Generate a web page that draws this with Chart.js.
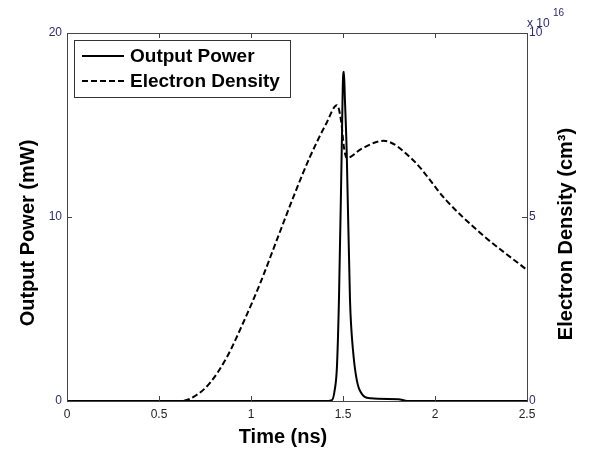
<!DOCTYPE html>
<html>
<head>
<meta charset="utf-8">
<script src="https://cdn.jsdelivr.net/npm/chart.js@4.4.0/dist/chart.umd.min.js"></script>
<style>
  html, body { margin: 0; padding: 0; background: #fff; }
</style>
</head>
<body>
<canvas id="chart" width="590" height="453"></canvas>
<script>
// Output power pulse (time in ns, power in mW)
const powerTime   = [0, 1.40, 1.44, 1.455, 1.467, 1.478, 1.493, 1.500, 1.505, 1.510, 1.520, 1.538, 1.554, 1.59, 1.65, 1.80, 1.85, 2.5];
const powerValues = [0, 0, 0.05, 0.6, 1.85, 5.5, 13.6, 17.5, 17.9, 16.5, 13.6, 5.5, 2.8, 0.6, 0.15, 0.1, 0, 0];

// Electron density (time in ns, density in 1e16 cm^-3)
const densityTime   = [0, 0.62, 0.70, 0.777, 0.87, 0.957, 1.05, 1.14, 1.23, 1.32, 1.41, 1.467, 1.49, 1.505, 1.52, 1.60, 1.72, 1.88, 2.06, 2.245, 2.5];
const densityValues = [0, 0, 0.15, 0.49, 1.2, 2.12, 3.2, 4.37, 5.54, 6.63, 7.55, 8.04, 7.6, 6.9, 6.6, 6.85, 7.07, 6.55, 5.46, 4.57, 3.56];

// Tick labels
const timeTicks = [0, 0.5, 1, 1.5, 2, 2.5];
const powerTicks = [0, 10, 20];
const densityTicks = [0, 5, 10];

const xTitle = 'Time (ns)';
const yTitle = 'Output Power (mW)';
const y2Title = 'Electron Density (cm\u00B3)';

const FONT = '"Liberation Sans", Arial, sans-serif';
const tickColor = '#2f2a72';

function toPoints(xs, ys) {
    return xs.map((x, i) => ({ x: x, y: ys[i] }));
}

function setTicks(values) {
    return function(scale) {
        scale.ticks = values.map(v => ({ value: v }));
    };
}

// Draws the MATLAB-style box, inward ticks, titles and the framed legend
const framePlugin = {
    id: 'frame',
    afterDatasetsDraw(chart) {
        const { ctx, chartArea: a, scales } = chart;
        ctx.save();
        ctx.strokeStyle = '#444';
        ctx.lineWidth = 1;
        ctx.strokeRect(Math.round(a.left) + 0.5, Math.round(a.top) + 0.5,
            Math.round(a.right - a.left), Math.round(a.bottom - a.top));

        ctx.beginPath();
        scales.x.ticks.forEach(t => {
            const px = Math.round(scales.x.getPixelForValue(t.value)) + 0.5;
            ctx.moveTo(px, a.bottom); ctx.lineTo(px, a.bottom - 5);
            ctx.moveTo(px, a.top); ctx.lineTo(px, a.top + 5);
        });
        scales.y.ticks.forEach(t => {
            const py = Math.round(scales.y.getPixelForValue(t.value)) + 0.5;
            ctx.moveTo(a.left, py); ctx.lineTo(a.left + 5, py);
        });
        scales.y2.ticks.forEach(t => {
            const py = Math.round(scales.y2.getPixelForValue(t.value)) + 0.5;
            ctx.moveTo(a.right, py); ctx.lineTo(a.right - 5, py);
        });
        ctx.stroke();

        // axis titles
        ctx.fillStyle = '#000';
        ctx.font = 'bold 20px ' + FONT;
        ctx.textAlign = 'center';
        ctx.textBaseline = 'middle';
        ctx.fillText(xTitle, 283, 437);

        ctx.save();
        ctx.translate(28, 233);
        ctx.rotate(-Math.PI / 2);
        ctx.fillText(yTitle, 0, 0);
        ctx.restore();

        ctx.save();
        ctx.translate(566, 234);
        ctx.rotate(-Math.PI / 2);
        ctx.fillText(y2Title, 0, 0);
        ctx.restore();

        // exponent label of the right axis
        ctx.fillStyle = tickColor;
        ctx.textAlign = 'left';
        ctx.textBaseline = 'alphabetic';
        ctx.font = '12px ' + FONT;
        ctx.fillText('x 10', 527, 27);
        ctx.font = '10px ' + FONT;
        ctx.fillText('16', 553, 16);

        // legend
        const box = { x: 74, y: 40, w: 216, h: 57 };
        ctx.fillStyle = '#fff';
        ctx.fillRect(box.x, box.y, box.w, box.h);
        ctx.strokeStyle = '#333';
        ctx.strokeRect(box.x + 0.5, box.y + 0.5, box.w, box.h);
        const rows = [56, 81];
        chart.data.datasets.forEach((ds, i) => {
            const y = rows[i];
            ctx.strokeStyle = ds.borderColor;
            ctx.lineWidth = 2;
            ctx.setLineDash(ds.borderDash || []);
            ctx.beginPath();
            ctx.moveTo(82, y); ctx.lineTo(124, y);
            ctx.stroke();
            ctx.setLineDash([]);
            ctx.fillStyle = '#000';
            ctx.font = 'bold 19px ' + FONT;
            ctx.textBaseline = 'middle';
            ctx.fillText(ds.label, 130, y + 1);
        });
        ctx.restore();
    }
};

const ctx = document.getElementById('chart').getContext('2d');
const chart = new Chart(ctx, {
    type: 'line',
    data: {
        datasets: [{
            label: 'Output Power',
            data: toPoints(powerTime, powerValues),
            yAxisID: 'y',
            borderColor: '#000',
            borderWidth: 2,
            pointRadius: 0,
            cubicInterpolationMode: 'monotone'
        }, {
            label: 'Electron Density',
            data: toPoints(densityTime, densityValues),
            yAxisID: 'y2',
            borderColor: '#000',
            borderWidth: 2,
            borderDash: [6, 3],
            pointRadius: 0,
            cubicInterpolationMode: 'monotone'
        }]
    },
    options: {
        responsive: false,
        animation: false,
        layout: { padding: { top: 33, left: 0, right: 0, bottom: 0 } },
        plugins: {
            legend: { display: false },
            tooltip: { enabled: false }
        },
        scales: {
            x: {
                type: 'linear',
                min: 0,
                max: 2.5,
                afterBuildTicks: setTicks(timeTicks),
                afterFit: scale => { scale.height = 52; },
                grid: { display: false, drawTicks: false },
                border: { display: false },
                ticks: {
                    padding: 6,
                    color: '#222',
                    font: { family: FONT, size: 12 },
                    callback: v => String(v)
                }
            },
            y: {
                position: 'left',
                min: 0,
                max: 20,
                afterBuildTicks: setTicks(powerTicks),
                afterFit: scale => { scale.width = 67; },
                grid: { display: false, drawTicks: false },
                border: { display: false },
                ticks: {
                    padding: 5,
                    color: tickColor,
                    font: { family: FONT, size: 12 },
                    callback: v => String(v)
                }
            },
            y2: {
                position: 'right',
                min: 0,
                max: 10,
                afterBuildTicks: setTicks(densityTicks),
                afterFit: scale => { scale.width = 63; },
                grid: { display: false, drawTicks: false },
                border: { display: false },
                ticks: {
                    padding: 2,
                    color: tickColor,
                    font: { family: FONT, size: 12 },
                    callback: v => String(v)
                }
            }
        }
    },
    plugins: [framePlugin]
});
</script>
</body>
</html>
